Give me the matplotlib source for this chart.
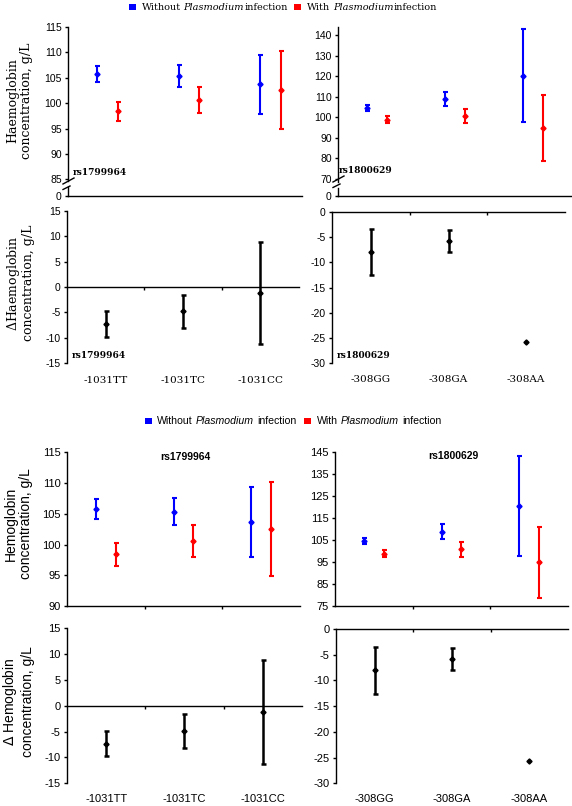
import numpy as np
import matplotlib
matplotlib.use('Agg')
import matplotlib.pyplot as plt
from matplotlib.lines import Line2D
from matplotlib.patches import Rectangle
from matplotlib.offsetbox import AnchoredOffsetbox, HPacker, TextArea, DrawingArea

genotypes_1031 = ['-1031TT', '-1031TC', '-1031CC']
genotypes_308 = ['-308GG', '-308GA', '-308AA']

# rs1799964 (-1031): haemoglobin g/L, mean with lower / upper limits
hb1031_without = [105.8, 105.3, 103.7]
hb1031_without_lo = [104.1, 103.1, 97.9]
hb1031_without_hi = [107.4, 107.5, 109.4]
hb1031_with = [98.4, 100.6, 102.5]
hb1031_with_lo = [96.5, 98.0, 94.9]
hb1031_with_hi = [100.3, 103.1, 110.2]

# rs1800629 (-308)
hb308_without = [104.5, 108.7, 120.2]
hb308_without_lo = [103.1, 105.4, 97.5]
hb308_without_hi = [106.0, 112.1, 143.0]
hb308_with = [98.7, 100.7, 94.9]
hb308_with_lo = [97.1, 97.3, 78.6]
hb308_with_hi = [100.4, 103.9, 110.7]

# difference (with - without infection)
d1031 = [-7.3, -4.8, -1.2]
d1031_lo = [-9.8, -8.1, -11.3]
d1031_hi = [-4.8, -1.5, 8.9]
d308 = [-8.0, -5.8, -25.7]
d308_lo = [-12.6, -8.0, np.nan]
d308_hi = [-3.5, -3.6, np.nan]

BLUE = '#0000ff'
RED = '#ff0000'
W, H = 572, 806
SERIF = 'DejaVu Serif'
SANS = 'Liberation Sans'

fig = plt.figure(figsize=(W / 100, H / 100), dpi=100)


def add_ax(x0, x1, ytop, ybot):
    """Axes from pixel box (y measured from the top)."""
    ax = fig.add_axes([x0 / W, 1 - ybot / H, (x1 - x0) / W, (ybot - ytop) / H])
    ax.patch.set_alpha(0)
    ax.spines['top'].set_visible(False)
    ax.spines['right'].set_visible(False)
    ax.spines['left'].set_linewidth(1.0)
    ax.spines['bottom'].set_linewidth(1.0)
    ax.tick_params(axis='y', direction='out', length=2.5, width=1.0, pad=2)
    return ax


def ci_bars(ax, x, mean, lo, hi, color, lw=1.5):
    mean = np.array(mean, dtype=float)
    err = np.array([mean - np.array(lo, dtype=float), np.array(hi, dtype=float) - mean])
    ax.errorbar(x, mean, yerr=err, fmt='D', ms=2.6, color=color, ecolor=color,
                elinewidth=lw, capsize=1.8, capthick=lw, clip_on=False)


def fig_line(pts, lw=1.0):
    xs = [p[0] / W for p in pts]
    ys = [1 - p[1] / H for p in pts]
    fig.add_artist(Line2D(xs, ys, transform=fig.transFigure, color='black', lw=lw))


def axis_break(ax_x, y85):
    # two slanted marks across the y axis
    fig_line([(ax_x - 5, y85 + 5), (ax_x + 6, y85 - 1)])
    fig_line([(ax_x - 5, y85 + 10.5), (ax_x + 2, y85 + 7)])


def set_yticks(ax, ticks, labels, family, size):
    ax.set_yticks(ticks)
    ax.set_yticklabels(labels, family=family, fontsize=size)


def legend_row(y_px, xc_px, family, size, gap_italic_after, sq=5.0, item_sep=5):
    def words(parts):
        kids = []
        for text, italic, gap in parts:
            if gap > 0:
                kids.append(DrawingArea(gap, 0.1))
            kids.append(TextArea(text, textprops=dict(family=family, fontsize=size,
                                                      style='italic' if italic else 'normal')))
        return HPacker(children=kids, align='baseline', pad=0, sep=0)

    def item(color, first):
        da = DrawingArea(sq, sq)
        da.add_artist(Rectangle((0, 0), sq, sq, fc=color, ec='none'))
        parts = [(first, False, 0), ('Plasmodium', True, 2.2), ('infection', False, gap_italic_after)]
        return HPacker(children=[da, words(parts)], align='center', pad=0, sep=4)

    row = HPacker(children=[item(BLUE, 'Without'), item(RED, 'With')], align='center', pad=0, sep=item_sep)
    box = AnchoredOffsetbox(loc='center', child=row, bbox_to_anchor=(xc_px / W, 1 - y_px / H),
                            bbox_transform=fig.transFigure, frameon=False, pad=0, borderpad=0)
    fig.add_artist(box)


def delta_panel(ax, mean, lo, hi, ylim, labels, family, label_size, label_off):
    x = np.arange(len(mean))
    ci_bars(ax, x, mean, lo, hi, 'black', lw=1.8)
    ax.set_xlim(-0.5, 2.5)
    ax.set_ylim(*ylim)
    ax.spines['bottom'].set_position(('data', 0))
    ax.set_xticks([0.5, 1.5])
    ax.set_xticklabels([])
    ax.tick_params(axis='x', direction='out', length=2, width=1.0)
    for i, lab in enumerate(labels):
        ax.text(i, label_off, lab, transform=ax.get_xaxis_transform(), ha='center', va='center',
                family=family, fontsize=label_size)


x = np.arange(3)
off = 0.125

# ---------------- top version (serif) ----------------
ax = add_ax(68, 302, 27, 196)
ci_bars(ax, x - off, hb1031_without, hb1031_without_lo, hb1031_without_hi, BLUE)
ci_bars(ax, x + off, hb1031_with, hb1031_with_lo, hb1031_with_hi, RED)
ax.set_xlim(-0.485, 2.387)
ax.set_ylim(81.7, 115)
set_yticks(ax, [81.7, 85, 90, 95, 100, 105, 110, 115], ['0', '85', '90', '95', '100', '105', '110', '115'], SANS, 7.5)
ax.set_xticks([])
ax.spines['left'].set_bounds(84.6, 115)
ax.plot([0, 0], [81.7, 83.4], transform=ax.get_yaxis_transform(), color='black', lw=1.0, clip_on=False)
ax.text(0.022, 0.142, 'rs1799964', transform=ax.transAxes, family=SERIF, weight='bold', fontsize=6.5,
        va='center')
axis_break(68, 179)

ax = add_ax(338, 572, 27, 196)
ci_bars(ax, x - off, hb308_without, hb308_without_lo, hb308_without_hi, BLUE)
ci_bars(ax, x + off, hb308_with, hb308_with_lo, hb308_with_hi, RED)
ax.set_xlim(-0.5, 2.5)
ax.set_ylim(61.7, 143.9)
set_yticks(ax, [61.7, 70, 80, 90, 100, 110, 120, 130, 140],
           ['0', '70', '80', '90', '100', '110', '120', '130', '140'], SANS, 7.5)
ax.set_xticks([])
ax.spines['left'].set_bounds(68.7, 143.9)
ax.plot([0, 0], [61.7, 65.6], transform=ax.get_yaxis_transform(), color='black', lw=1.0, clip_on=False)
ax.text(0.005, 0.148, 'rs1800629', transform=ax.transAxes, family=SERIF, weight='bold', fontsize=6.5,
        va='center')
axis_break(338, 177)

ax = add_ax(67, 299, 210.7, 363.3)
delta_panel(ax, d1031, d1031_lo, d1031_hi, (-15, 15), genotypes_1031, SERIF, 7.5, -0.11)
set_yticks(ax, range(-15, 16, 5), [str(v) for v in range(-15, 16, 5)], SANS, 7.5)
ax.text(0.022, 0.05, 'rs1799964', transform=ax.transAxes, family=SERIF, weight='bold', fontsize=6.5,
        va='center')

ax = add_ax(332, 565, 211.7, 363.3)
delta_panel(ax, d308, d308_lo, d308_hi, (-30, 0), genotypes_308, SERIF, 7.5, -0.11)
set_yticks(ax, range(-30, 1, 5), [str(v) for v in range(-30, 1, 5)], SANS, 7.5)
ax.text(0.022, 0.05, 'rs1800629', transform=ax.transAxes, family=SERIF, weight='bold', fontsize=6.5,
        va='center')

fig.text(20 / W, 1 - 101 / H, 'Haemoglobin\nconcentration, g/L', rotation=90, ha='center', va='center',
         family=SERIF, fontsize=9, linespacing=1.05)
fig.text(20 / W, 1 - 283 / H, r'$\mathit{\Delta}$Haemoglobin' + '\nconcentration, g/L', rotation=90,
         ha='center', va='center', family=SERIF, fontsize=9, linespacing=1.05, math_fontfamily='dejavuserif')
legend_row(7, 283, SERIF, 7, 0)

# ---------------- bottom version (sans) ----------------
ax = add_ax(67, 300, 452.3, 606)
ci_bars(ax, x - off, hb1031_without, hb1031_without_lo, hb1031_without_hi, BLUE)
ci_bars(ax, x + off, hb1031_with, hb1031_with_lo, hb1031_with_hi, RED)
ax.set_xlim(-0.5, 2.5)
ax.set_ylim(90, 115)
set_yticks(ax, range(90, 116, 5), [str(v) for v in range(90, 116, 5)], SANS, 8)
ax.set_xticks([0.5, 1.5])
ax.set_xticklabels([])
ax.tick_params(axis='x', direction='out', length=2.5, width=1.0)
ax.text(0.506, 0.97, 'rs1799964', transform=ax.transAxes, family=SANS, weight='bold', fontsize=7.5,
        ha='center', va='center')

ax = add_ax(335, 568, 451.7, 606)
ci_bars(ax, x - off, hb308_without, hb308_without_lo, hb308_without_hi, BLUE)
ci_bars(ax, x + off, hb308_with, hb308_with_lo, hb308_with_hi, RED)
ax.set_xlim(-0.5, 2.5)
ax.set_ylim(75, 145)
set_yticks(ax, range(75, 146, 10), [str(v) for v in range(75, 146, 10)], SANS, 8)
ax.set_xticks([0.5, 1.5])
ax.set_xticklabels([])
ax.tick_params(axis='x', direction='out', length=2.5, width=1.0)
ax.text(0.51, 0.97, 'rs1800629', transform=ax.transAxes, family=SANS, weight='bold', fontsize=7.5,
        ha='center', va='center')

ax = add_ax(67, 302, 628.3, 783.3)
delta_panel(ax, d1031, d1031_lo, d1031_hi, (-15, 15), genotypes_1031, SANS, 8, -0.1)
set_yticks(ax, range(-15, 16, 5), [str(v) for v in range(-15, 16, 5)], SANS, 8)

ax = add_ax(336, 568, 629, 783.3)
delta_panel(ax, d308, d308_lo, d308_hi, (-30, 0), genotypes_308, SANS, 8, -0.1)
set_yticks(ax, range(-30, 1, 5), [str(v) for v in range(-30, 1, 5)], SANS, 8)

fig.text(18 / W, 1 - 524 / H, 'Hemoglobin\nconcentration, g/L', rotation=90, ha='center', va='center',
         family=SANS, fontsize=10, linespacing=1.1)
fig.text(18 / W, 1 - 702 / H, r'$\mathit{\Delta}$ Hemoglobin' + '\nconcentration, g/L', rotation=90,
         ha='center', va='center', family=SANS, fontsize=10, linespacing=1.1, math_fontfamily='dejavusans')
legend_row(421, 293, SANS, 7.6, 2.0, item_sep=6)

fig.savefig('out.png', dpi=100)
